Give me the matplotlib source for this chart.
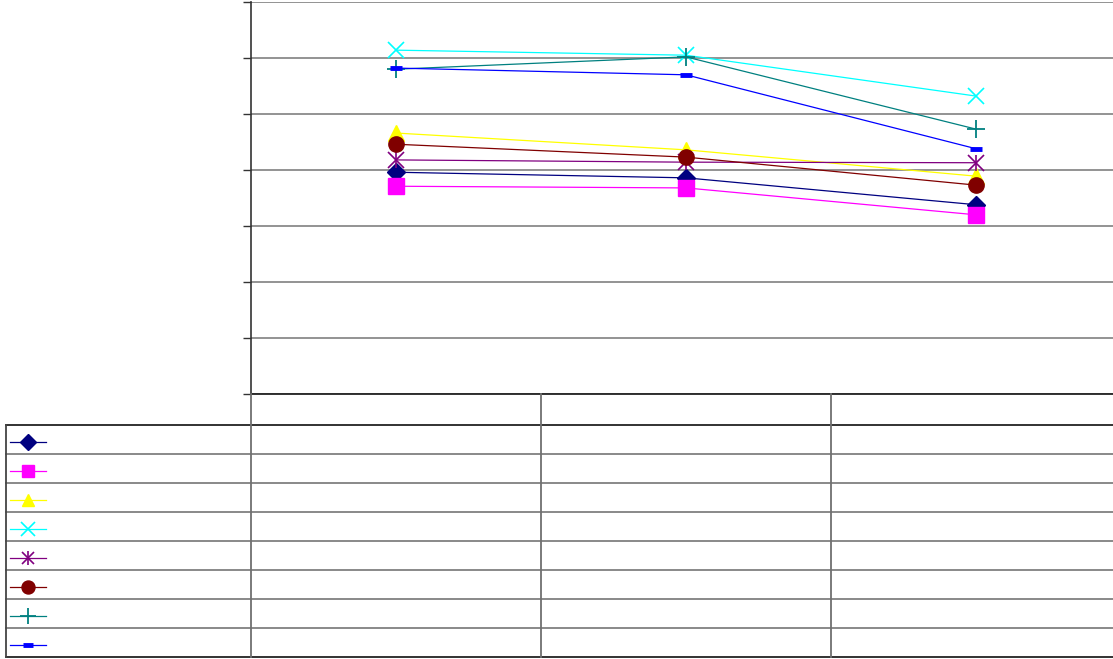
import matplotlib
matplotlib.use("Agg")
import matplotlib.pyplot as plt

# --- data (no text in the source chart, only values) ---
categories = [0, 1, 2]
s_navy = [39.6, 38.6, 33.8]
s_magenta = [37.1, 36.8, 32.0]
s_yellow = [46.6, 43.6, 38.9]
s_cyan = [61.4, 60.5, 53.2]
s_purple = [41.8, 41.4, 41.3]
s_maroon = [44.6, 42.3, 37.3]
s_teal = [58.0, 60.2, 47.3]
s_blue = [58.2, 57.0, 43.8]

series = [
    (s_navy, "#000080", "D", 9, 1),
    (s_magenta, "#FF00FF", "s", 11, 1),
    (s_yellow, "#FFFF00", "^", 11, 1),
    (s_cyan, "#00FFFF", "x", 12, 1.2),
    (s_purple, "#800080", "x", 11, 1.2),
    (s_maroon, "#800000", "o", 11, 1),
    (s_teal, "#008080", "+", 13, 1.3),
    (s_blue, "#0000FF", "_", 8, 3.5),
]

W, H = 1113, 659
fig = plt.figure(figsize=(W / 100, H / 100), dpi=100)

# plot area (right column is clipped by the image edge, as in the original)
left, right, top, bottom = 251, 1121, 2, 394
ax = fig.add_axes([left / W, 1 - bottom / H, (right - left) / W, (bottom - top) / H])
ax.set_xlim(-0.5, 2.5)
ax.set_ylim(0, 70)
ax.set_yticks(range(0, 71, 10))
ax.yaxis.grid(True, color="#808080", linewidth=1.2)
ax.set_axisbelow(True)
ax.tick_params(axis="y", direction="out", length=6, width=1, color="#333333", labelleft=False)
ax.tick_params(axis="x", length=0, labelbottom=False)
for side in ["top", "right", "bottom"]:
    ax.spines[side].set_visible(False)
ax.spines["left"].set_color("#333333")
ax.spines["left"].set_linewidth(1.2)

def draw(a, xs, ys, color, marker, ms, mew, purple=False):
    a.plot(xs, ys, color=color, linewidth=0.9, marker=marker, markersize=ms,
           markerfacecolor=color, markeredgecolor=color, markeredgewidth=mew, clip_on=False)
    if purple:
        a.plot(xs, ys, linestyle="none", marker="|", markersize=ms * 1.05,
               markeredgecolor=color, markeredgewidth=mew, clip_on=False)

for vals, color, marker, ms, mew in series:
    draw(ax, categories, vals, color, marker, ms, mew, purple=(color == "#800080"))

# --- data table below the plot (empty cells, legend keys in first column) ---
tab = fig.add_axes([0, 0, 1, 1])
tab.set_xlim(0, W)
tab.set_ylim(H, 0)
tab.axis("off")

row_top = 394
head_bottom = 425
row_h = (657 - head_bottom) / len(series)
col_x = [251, 541, 831]
tab.plot([251, W], [row_top, row_top], color="#222222", lw=1.3)
tab.plot([6, W], [head_bottom, head_bottom], color="#222222", lw=1.3)
for i in range(1, len(series)):
    y = head_bottom + i * row_h
    tab.plot([6, W], [y, y], color="#808080", lw=1.3)
tab.plot([6, W], [657, 657], color="#222222", lw=1.3)
tab.plot([6, 6], [head_bottom, 657], color="#444444", lw=1.3)
for x in col_x:
    tab.plot([x, x], [row_top, 657], color="#707070", lw=1.3)

for i, (vals, color, marker, ms, mew) in enumerate(series):
    y = head_bottom + (i + 0.5) * row_h + 2
    tab.plot([10, 46], [y, y], color=color, lw=0.9)
    tab.plot([28], [y], linestyle="none", marker=marker, markersize=ms * 0.85,
             markerfacecolor=color, markeredgecolor=color, markeredgewidth=mew)
    if color == "#800080":
        tab.plot([28], [y], linestyle="none", marker="|", markersize=ms * 0.9,
                 markeredgecolor=color, markeredgewidth=mew)

fig.savefig("out.png", dpi=100, facecolor="white")
